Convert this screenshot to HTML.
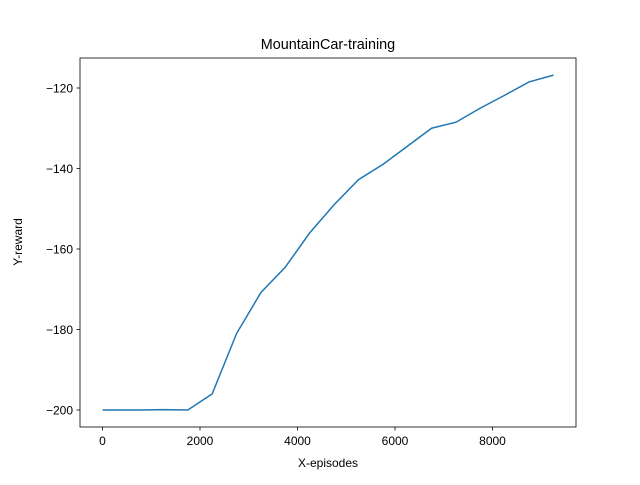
<!DOCTYPE html>
<html><head><meta charset="utf-8"><style>
body{margin:0;background:#fff}
svg text{font-family:"Liberation Sans","DejaVu Sans",sans-serif;fill:#000}
</style></head><body>
<svg id="chart" width="640" height="480" xmlns="http://www.w3.org/2000/svg">
<rect width="640" height="480" fill="#fff"/>
<text x="328" y="49" font-size="14.4" text-anchor="middle">MountainCar-training</text>
<g id="axes"></g>
<rect x="80" y="58" width="496" height="369" fill="none" stroke="#000" stroke-width="0.8"/>
<text x="328" y="467" font-size="12" text-anchor="middle">X-episodes</text>
<text transform="translate(22,242) rotate(-90)" font-size="12" text-anchor="middle">Y-reward</text>
</svg>
<script>
const episodes=[0,750,1250,1750,2250,2750,3250,3750,4250,4750,5250,5750,6250,6750,7250,7750,8250,8750,9250];
const rewards=[-200,-200,-199.9,-200,-196,-181,-170.8,-164.5,-156,-149,-142.8,-139,-134.5,-130,-128.5,-125,-121.8,-118.5,-116.8];
const xTicks=[0,2000,4000,6000,8000];
const yTicks=[-200,-180,-160,-140,-120];
const xs=v=>102.5+v*0.04875;
const ys=v=>88+(-120-v)*4.025;
const NS="http://www.w3.org/2000/svg";
const g=document.getElementById('axes');
const svg=document.getElementById('chart');
function mk(t,a){const e=document.createElementNS(NS,t);for(const k in a)e.setAttribute(k,a[k]);return e;}
xTicks.forEach(v=>{
  const l=mk('line',{x1:xs(v),x2:xs(v),y1:427,y2:430.5,stroke:'#000','stroke-width':0.8});
  
  
  g.appendChild(l);
  const t=mk('text',{x:xs(v),y:445,'font-size':12,'text-anchor':'middle'});
  t.textContent=String(v);
  
  
  g.appendChild(t);
});
yTicks.forEach(v=>{
  const l=mk('line',{x1:76.5,x2:80,y1:ys(v),y2:ys(v),stroke:'#000','stroke-width':0.8});
  
  
  g.appendChild(l);
  const t=mk('text',{x:73,y:ys(v)+4.5,'font-size':12,'text-anchor':'end'});
  t.textContent='\u2212'+Math.abs(v);
  
  
  g.appendChild(t);
});
const p=mk('polyline',{points:episodes.map((x,i)=>xs(x)+','+ys(rewards[i])).join(' '),fill:'none',stroke:'#1f77b4','stroke-width':1.5});


svg.appendChild(p);
</script>
</body></html>
